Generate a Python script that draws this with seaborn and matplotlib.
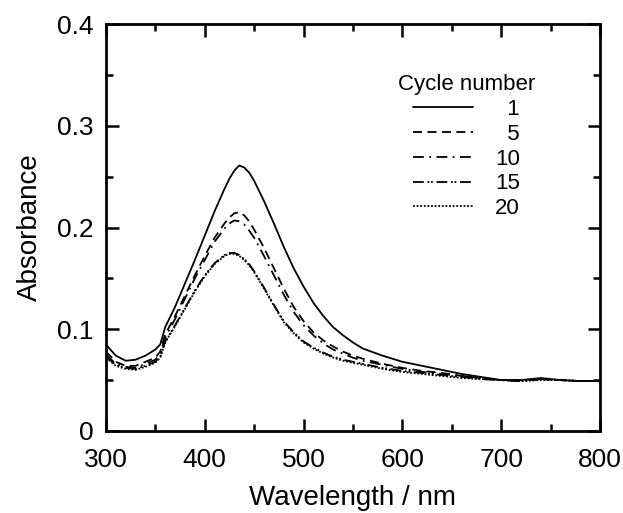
import numpy as np
import pandas as pd
import matplotlib
matplotlib.use("Agg")
import matplotlib.pyplot as plt
from matplotlib.ticker import MultipleLocator
import seaborn as sns

# wavelength grid (nm)
wavelength = [300, 310, 320, 330, 340, 350, 355, 360, 370, 380, 390, 400, 410, 420,
              425, 430, 435, 440, 445, 450, 460, 470, 480, 490, 500, 510, 520, 530, 540,
              550, 560, 580, 600, 620, 640, 660, 680, 700, 720, 740, 760, 780, 800]

abs_c1 = [0.085, 0.074, 0.069, 0.070, 0.074, 0.080, 0.085, 0.102, 0.122, 0.145, 0.168,
          0.192, 0.216, 0.238, 0.248, 0.256, 0.261, 0.259, 0.254, 0.246, 0.226, 0.204,
          0.181, 0.160, 0.142, 0.126, 0.113, 0.102, 0.094, 0.087, 0.081, 0.074, 0.068,
          0.064, 0.060, 0.056, 0.053, 0.050, 0.050, 0.052, 0.050, 0.049, 0.049]
abs_c5 = [0.078, 0.068, 0.064, 0.064, 0.068, 0.072, 0.078, 0.095, 0.113, 0.133, 0.153,
          0.172, 0.190, 0.204, 0.210, 0.214, 0.215, 0.212, 0.206, 0.198, 0.180, 0.160,
          0.140, 0.122, 0.108, 0.097, 0.089, 0.083, 0.078, 0.074, 0.071, 0.066, 0.062,
          0.059, 0.057, 0.054, 0.052, 0.050, 0.050, 0.051, 0.050, 0.049, 0.049]
abs_c10 = [0.075, 0.066, 0.063, 0.062, 0.066, 0.070, 0.076, 0.092, 0.110, 0.130, 0.150,
           0.168, 0.186, 0.199, 0.204, 0.207, 0.206, 0.203, 0.197, 0.190, 0.172, 0.153,
           0.134, 0.117, 0.104, 0.094, 0.086, 0.080, 0.076, 0.072, 0.069, 0.065, 0.061,
           0.058, 0.056, 0.054, 0.052, 0.050, 0.049, 0.051, 0.050, 0.049, 0.049]
abs_c15 = [0.073, 0.065, 0.062, 0.061, 0.064, 0.068, 0.073, 0.088, 0.104, 0.121, 0.138,
           0.153, 0.165, 0.173, 0.175, 0.175, 0.173, 0.169, 0.164, 0.157, 0.141, 0.124,
           0.108, 0.097, 0.088, 0.082, 0.077, 0.073, 0.070, 0.068, 0.066, 0.062, 0.059,
           0.057, 0.055, 0.053, 0.051, 0.050, 0.049, 0.051, 0.050, 0.049, 0.049]
abs_c20 = [0.072, 0.064, 0.061, 0.060, 0.063, 0.067, 0.072, 0.087, 0.103, 0.120, 0.137,
           0.152, 0.164, 0.172, 0.174, 0.174, 0.172, 0.168, 0.163, 0.156, 0.140, 0.123,
           0.107, 0.096, 0.087, 0.081, 0.076, 0.072, 0.069, 0.067, 0.065, 0.061, 0.058,
           0.056, 0.054, 0.052, 0.051, 0.050, 0.049, 0.050, 0.050, 0.049, 0.049]

cycles = ["1", "5", "10", "15", "20"]
series = [abs_c1, abs_c5, abs_c10, abs_c15, abs_c20]

df = pd.concat([pd.DataFrame({"wavelength": wavelength, "absorbance": s, "cycle": c})
                for c, s in zip(cycles, series)], ignore_index=True)

sns.set_style("ticks", {"axes.edgecolor": "black", "text.color": "black",
                        "axes.labelcolor": "black", "xtick.color": "black",
                        "ytick.color": "black"})
plt.rcParams["font.family"] = ["Liberation Sans", "DejaVu Sans"]

dash_map = {"1": "", "5": (5, 3), "10": (6, 3, 1, 3), "15": (6, 2, 1, 1, 1, 2), "20": (1, 1)}

fig = plt.figure(figsize=(6.23, 5.13), dpi=100)
ax = fig.add_axes([0.170, 0.160, 0.793, 0.793])
sns.lineplot(data=df, x="wavelength", y="absorbance", style="cycle", style_order=cycles,
             dashes=dash_map, color="black", linewidth=1.3, ax=ax)

ax.set_xlim(300, 800)
ax.set_ylim(0, 0.4)
ax.xaxis.set_major_locator(MultipleLocator(100))
ax.xaxis.set_minor_locator(MultipleLocator(50))
ax.yaxis.set_major_locator(MultipleLocator(0.1))
ax.yaxis.set_minor_locator(MultipleLocator(0.05))
ax.set_yticks([0, 0.1, 0.2, 0.3, 0.4], ["0", "0.1", "0.2", "0.3", "0.4"])
ax.tick_params(which="both", direction="in", top=True, right=True, width=1.8,
               labelsize=19)
ax.tick_params(axis="x", pad=12)
ax.tick_params(axis="y", pad=9)
ax.tick_params(which="major", length=9)
ax.tick_params(which="minor", length=5)
for sp in ax.spines.values():
    sp.set_linewidth(2.0)

ax.set_xlabel("Wavelength / nm", fontsize=20, labelpad=10)
ax.set_ylabel("Absorbance", fontsize=20, labelpad=10)

handles, labels = ax.get_legend_handles_labels()
leg = ax.legend(handles, ["  1", "  5", "10", "15", "20"], title="Cycle number",
                frameon=False, fontsize=16, title_fontsize=16,
                loc="upper right", bbox_to_anchor=(0.90, 0.915), handlelength=2.7,
                labelspacing=0.17, borderpad=0.2, handletextpad=1.0)

fig.savefig("out.png", dpi=100)
